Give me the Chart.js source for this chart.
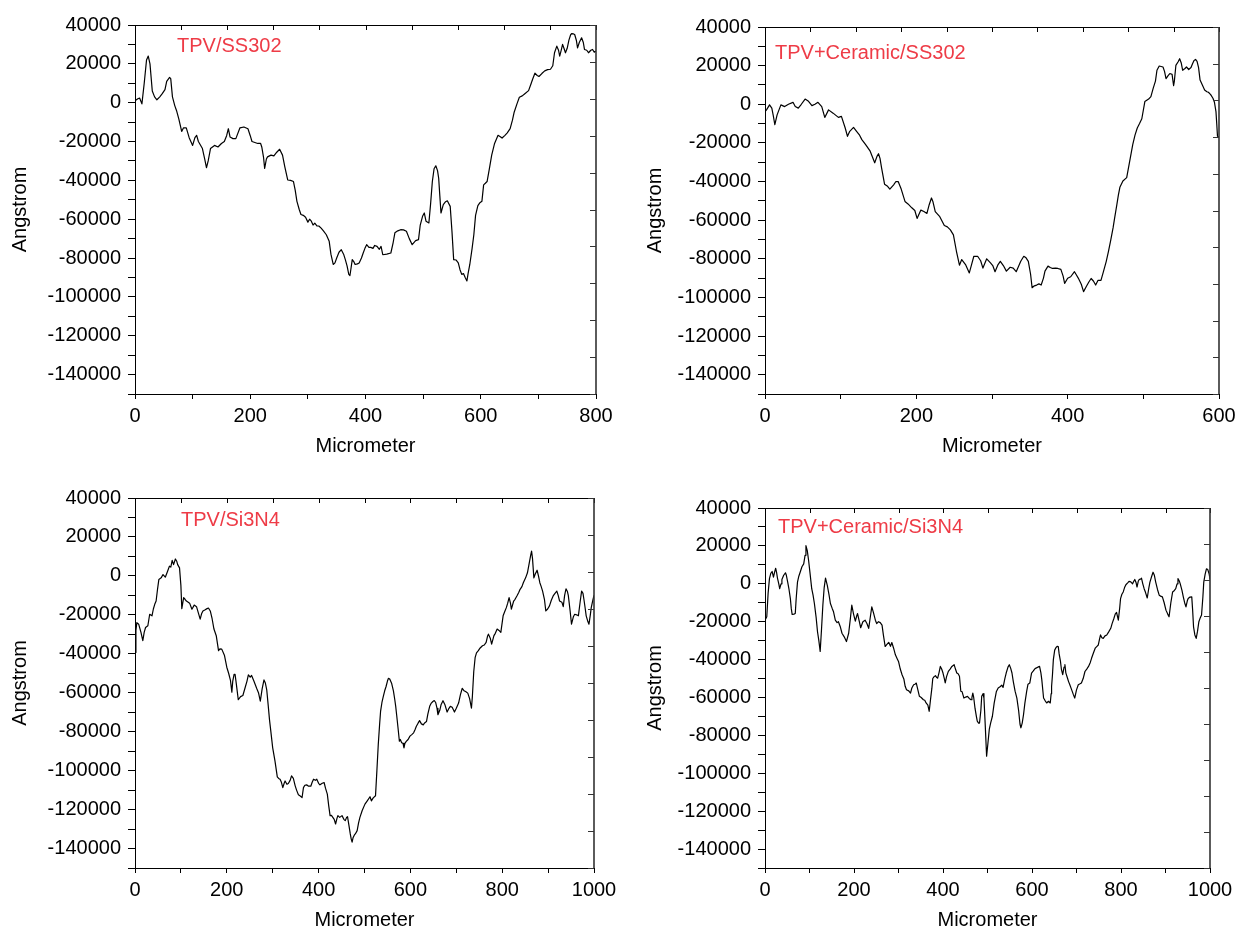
<!DOCTYPE html>
<html>
<head>
<meta charset="utf-8">
<title>Surface profiles</title>
<script src="https://cdn.jsdelivr.net/npm/chart.js@4.4.1/dist/chart.umd.min.js"></script>
<style>
  html, body { margin: 0; padding: 0; background: #fff; overflow: hidden; }
  body { width: 1239px; height: 930px; position: relative; }
  canvas { position: absolute; }
</style>
</head>
<body>
<canvas id="c1"></canvas>
<canvas id="c2"></canvas>
<canvas id="c3"></canvas>
<canvas id="c4"></canvas>
<script>
// --- Data: TPV/SS302 ---
const ss302X = [
  0,5,8,12,16,20,23,26,30,34, 38,43,47,52,55,60,62,65,69,72,
  76,81,84,89,94,100,104,107,110,117, 121,124,127,131,138,144,150,155,159,162,
  165,170,175,182,189,196,200,203,208,213, 218,220,223,225,228,230,236,241,246,251,
  256,260,265,270,275,278,281,285,288,292, 296,300,303,306,309,312,316,319,323,327,
  332,337,340,344,347,350,354,358,362,365, 368,371,373,375,377,380,382,386,389,393,
  396,399,402,406,409,413,416,420,424,427, 430,437,444,448,451,456,461,466,471,476,
  481,487,492,495,499,502,505,510,513,516, 519,522,525,527,529,531,535,539,542,547,
  550,553,557,561,564,567,570,573,576,578, 581,585,588,591,595,598,602,605,608,611,
  615,619,624,630,634,637,642,646,651,655, 658,663,667,672,676,683,687,690,694,698,
  701,706,711,716,721,725,728,732,735,737, 740,742,745,747,750,753,756,758,761,763,
  766,768,771,775,778,780,784,787,791,794, 797,800
];
const ss302Y = [
  1000,2000,2400,-600,10000,22000,24000,20000,6000,3000, 1500,3000,4500,6700,11000,13000,12400,3000,-1500,-4000,
  -8300,-14800,-13000,-13000,-18000,-22000,-18000,-16800,-20000,-23600, -29000,-33500,-30000,-23600,-22000,-22800,-21000,-20000,-17000,-13400,
  -17700,-18500,-18500,-13000,-12500,-13400,-17000,-20000,-20500,-21000, -21000,-22800,-28000,-33800,-29000,-27900,-27000,-27400,-25500,-24000,
  -27000,-33000,-39800,-40000,-40600,-45000,-50800,-55000,-57600,-58000, -59000,-61500,-60000,-61000,-63000,-62000,-63500,-63500,-64600,-66000,
  -68000,-71400,-78000,-83300,-82500,-80000,-77000,-75700,-78000,-80800, -84000,-88400,-89000,-85000,-80800,-82000,-83300,-83000,-82500,-80000,
  -77400,-75000,-73100,-74500,-74500,-75000,-73500,-74000,-75500,-74000, -78300,-78000,-77400,-72000,-67000,-66000,-65400,-65500,-66200,-70000,
  -73100,-71000,-70500,-63000,-58500,-56800,-61000,-61900,-52000,-40600, -34000,-32500,-35000,-38900,-48000,-56800,-52500,-51000,-50500,-53400,
  -66000,-80800,-81000,-82500,-86000,-88400,-88000,-90000,-91800,-88000, -83300,-75000,-68000,-58000,-53000,-51700,-50800,-42300,-41500,-40600,
  -34000,-27000,-21000,-16800,-17500,-18200,-16800,-15500,-13400,-9000, -4900,-500,2800,3500,4500,6200,9500,12100,15200,14000,
  13500,15000,16400,17000,17200,19000,25700,29100,27000,24000, 27500,30000,27500,25700,28000,32200,35000,35600,35400,35100,
  32000,28200,31000,33400,31000,27400,27000,25700,27000,27400, 26000,26600
];

// --- Data: TPV+Ceramic/SS302 ---
const ceramicSsX = [
  0,2,6,9,11,13,16,21,26,31, 37,40,44,48,53,57,62,66,70,75,
  79,84,90,97,101,106,109,112,117,121, 125,128,133,139,145,148,150,152,154,158,
  162,165,170,173,176,180,185,189,194,198, 201,206,210,214,217,220,222,225,231,237,
  241,245,249,253,257,260,265,270,273,276, 281,285,288,293,298,301,304,308,311,315,
  319,324,328,332,335,338,342,345,348,351, 353,356,359,362,365,368,370,374,377,380,
  384,387,391,394,396,400,404,409,411,414, 418,421,425,428,431,434,437,440,444,447,
  451,454,457,460,462,465,467,469,473,478, 482,486,489,492,495,498,502,507,510,513,
  516,518,521,526,528,530,533,535,538,540, 541,543,546,548,550,552,555,557,560,563,
  565,567,569,571,573,575,578,581,584,586, 589,592,594,596,597,598,600
];
const ceramicSsY = [
  -3800,-2900,-300,-2000,-6000,-10600,-5500,-300,-1200,0, 1000,-1200,-2000,0,2700,1700,-700,0,1000,-1200,
  -6800,-2900,-4600,-6800,-6300,-12300,-16600,-14000,-12000,-14000, -16000,-18300,-20900,-24300,-30300,-27000,-25600,-28000,-32800,-41400,
  -42500,-43900,-41700,-40000,-40000,-43900,-50300,-51600,-53600,-55000, -59100,-54800,-55500,-56500,-52000,-48500,-50500,-55600,-58200,-62800,
  -63500,-65000,-67600,-76100,-83300,-80400,-83000,-87300,-83000,-78700, -78700,-81000,-84800,-80000,-82100,-83500,-86700,-83000,-81300,-83500,
  -86400,-84400,-84800,-86700,-84000,-81300,-78700,-79500,-81300,-88000, -95000,-94000,-93600,-93000,-93600,-90000,-86400,-83800,-84500,-85000,
  -84800,-85000,-85500,-89000,-92700,-90100,-89300,-86700,-88000,-90000, -93200,-97000,-94100,-92000,-90200,-91500,-93600,-91200,-91200,-87000,
  -81300,-76000,-70200,-64000,-59100,-52000,-47000,-43000,-39700,-38000, -29400,-20900,-16000,-12300,-10000,-7500,1400,2700,4000,8200,
  12000,17600,19800,19300,17000,13300,15000,15900,15500,9600, 12000,20100,22000,23600,21500,17600,18500,19300,18000,19000,
  21000,22700,23200,22200,19000,12500,10000,7400,6500,6200, 5000,3100,1000,-3800,-10000,-16600,-17000
];

// --- Data: TPV/Si3N4 ---
const si3n4X = [
  0,2,4,8,13,17,20,23,28,32, 37,40,43,46,49,52,57,61,66,71,
  75,78,81,84,88,91,93,97,100,102, 106,109,112,116,119,124,129,134,138,142,
  145,148,152,157,160,164,168,172,177,182, 185,189,195,200,204,208,211,213,216,218,
  221,225,230,235,240,244,247,251,254,259, 265,269,273,277,281,284,287,290,293,296,
  300,305,310,313,316,319,322,325,327,331, 334,338,341,345,349,352,356,360,364,367,
  370,374,378,383,386,389,393,396,400,403, 408,412,415,419,422,425,428,431,434,437,
  440,442,446,451,455,458,461,463,466,469, 471,473,475,478,480,484,487,490,495,501,
  506,512,515,519,524,527,530,533,535,538, 541,544,547,550,552,555,559,563,566,568,
  570,573,576,578,581,584,586,588,591,595, 599,603,607,610,613,617,620,624,628,631,
  635,638,642,645,649,652,655,658,660,664, 667,671,675,680,684,687,691,696,700,705,
  709,713,717,721,725,729,733,735,738,741, 744,748,752,757,761,765,768,770,774,777,
  782,785,789,793,797,802,806,809,812,815, 818,820,825,828,832,836,839,843,846,851,
  855,859,862,864,866,869,872,876,879,882, 885,888,892,895,899,903,907,911,915,919,
  922,925,930,933,936,939,942,944,948,951, 955,958,962,966,970,973,976,978,981,983,
  986,989,992,994,997,1000
];
const si3n4Y = [
  -39300,-28000,-24000,-24800,-29000,-33300,-29000,-26500,-25600,-19700, -20500,-17000,-14600,-12900,-7000,-1800,-1000,700,-650,2400,
  5000,4500,8000,5800,8700,7500,5800,4100,-5000,-16800, -11200,-12000,-12900,-13500,-14000,-17100,-15000,-15800,-19000,-22200,
  -19500,-18000,-17500,-16800,-16500,-18000,-22000,-27300,-30700,-38400, -37500,-37600,-40900,-46900,-50000,-53700,-59700,-54000,-50500,-50500,
  -56000,-63600,-62000,-61400,-57300,-54000,-50800,-52000,-51100,-54000, -57700,-60000,-64300,-58000,-53400,-55000,-58500,-66000,-73800,-80000,
  -88300,-95100,-103200,-104000,-104400,-106000,-108700,-106500,-105300,-107000, -106600,-105000,-102700,-104000,-107800,-110000,-112400,-113000,-113800,-108700,
  -107500,-107300,-108000,-108000,-106000,-104400,-105000,-104400,-106500,-107300, -106500,-106100,-109000,-112100,-118000,-123100,-123000,-124000,-125000,-127400,
  -124500,-123100,-124000,-123100,-125000,-125700,-124000,-123600,-128000,-132500, -135000,-136700,-134500,-133000,-132500,-130800,-127000,-124000,-120500,-117200,
  -115500,-113400,-115500,-114000,-112900,-100000,-86600,-76000,-69600,-65000, -61900,-59000,-56800,-54000,-52600,-53000,-55100,-59000,-63600,-67000,
  -71300,-78000,-84900,-84000,-85700,-86000,-88300,-86000,-85000,-84000, -82300,-81500,-80600,-79000,-77200,-75500,-74300,-76000,-76500,-75500,
  -74800,-71000,-67000,-65500,-64500,-64000,-65000,-68000,-71300,-69000, -66000,-64100,-66000,-69900,-68000,-67000,-67500,-69900,-68000,-65300,
  -61000,-57700,-59000,-59500,-60200,-63000,-67900,-62000,-49200,-42000, -39500,-38400,-37000,-35900,-35500,-34100,-31000,-29900,-32000,-35000,
  -30700,-29500,-27300,-28000,-29000,-20500,-18000,-16300,-14000,-11200, -14000,-17100,-12900,-12000,-10300,-8500,-6900,-5500,-3500,-1000,
  1600,6700,10500,12700,9000,-1000,1000,2900,0,-3500, -5500,-7800,-12000,-18000,-17000,-15400,-12500,-10300,-9000,-7800,
  -10000,-12900,-13500,-15800,-10000,-6600,-8000,-10000,-18000,-24800, -21000,-19700,-20000,-20500,-13000,-7800,-9000,-12000,-17000,-20500,
  -23000,-24800,-20000,-16300,-13000,-10000
];

// --- Data: TPV+Ceramic/Si3N4 ---
const ceramicSiX = [
  0,4,7,10,13,16,19,22,24,26, 28,31,33,36,38,42,46,48,51,54,
  57,59,61,65,68,70,73,76,79,83, 87,90,92,95,98,101,105,108,111,115,
  118,121,124,127,130,133,136,140,144,147, 151,154,158,162,165,169,173,178,183,188,
  192,195,199,203,206,208,212,215,220,225, 229,233,237,240,244,248,251,255,259,263,
  266,270,274,278,282,285,289,293,297,300, 304,308,312,315,318,323,327,330,334,337,
  340,343,347,351,356,359,362,366,369,372, 375,377,380,383,386,388,391,394,397,400,
  403,405,408,412,416,420,425,428,431,434, 437,440,443,447,451,455,459,463,465,467,
  469,472,475,477,480,482,485,487,490,492, 495,498,501,504,507,511,515,520,524,529,
  532,535,539,542,546,549,552,555,558,562, 566,570,573,575,578,581,584,588,591,595,
  599,603,606,609,613,617,620,622,626,629, 633,637,641,643,644,646,648,651,654,657,
  659,661,664,666,669,672,674,676,680,682, 685,690,693,696,700,704,708,711,715,719,
  723,727,731,734,738,742,746,749,752,754, 757,760,764,768,772,777,780,784,787,790,
  794,797,799,802,805,808,811,815,818,822, 826,829,831,834,836,839,841,844,846,849,
  852,855,859,862,865,869,872,875,878,882, 886,889,893,897,901,905,908,912,916,920,
  923,926,928,931,933,937,940,943,946,949, 951,955,959,961,963,966,969,972,975,978,
  981,984,986,989,992,995,998,1000
];
const ceramicSiY = [
  -19200,-17400,-5000,2700,5500,6500,3500,6500,8200,6000, 3000,0,-2600,0,2300,4500,5800,4500,900,-3000,
  -7800,-13000,-16200,-16000,-15700,-8000,900,4000,6100,9000, 10500,15000,20100,17500,12300,6000,-2600,-6000,-10400,-18000,
  -25300,-30000,-35700,-24000,-11300,-2000,3000,-800,-6000,-10400, -13000,-14800,-19200,-20500,-20000,-22500,-26100,-28000,-30500,-26100,
  -18000,-11300,-16000,-19700,-17000,-15700,-20000,-23200,-20000,-19200, -21000,-23500,-17000,-12200,-15500,-19200,-21000,-20000,-20500,-21800,
  -27000,-33100,-32000,-30900,-33000,-31000,-34000,-37500,-39500,-41000, -45000,-48000,-50200,-54100,-55900,-56500,-57700,-55000,-53300,-53000,
  -52400,-55500,-59400,-60000,-61200,-61500,-62900,-64000,-67300,-61000, -55100,-50000,-49000,-48500,-49500,-49800,-47000,-43600,-45000,-47100,
  -50000,-52300,-49000,-46200,-45000,-43600,-42700,-45000,-47100,-47500, -48800,-56700,-57000,-60300,-59800,-59400,-60500,-61200,-60000,-57700,
  -60000,-65800,-70000,-72500,-73500,-73600,-67000,-59400,-58000,-60300, -75000,-91000,-84000,-76900,-73500,-69900,-63000,-56800,-55000,-54200,
  -53500,-54700,-50000,-47100,-44000,-42700,-44500,-47100,-51600,-56700, -60300,-67000,-74000,-76000,-73500,-69000,-63000,-56800,-53000,-52400,
  -47100,-46000,-45000,-44500,-44000,-43600,-47000,-50600,-60300,-61500, -62900,-62000,-62900,-58000,-54200,-48000,-40000,-35000,-33600,-33000,
  -33100,-37000,-41000,-45000,-48000,-44000,-42700,-47000,-50000,-51500, -53300,-56500,-58500,-60300,-56000,-53300,-52800,-52400,-50000,-46300,
  -45000,-43600,-41500,-39200,-36500,-34000,-33000,-32300,-29000,-27000, -28500,-28800,-27500,-27000,-25500,-23500,-21000,-18300,-16000,-15100,
  -19200,-13000,-7800,-5500,-4300,-2000,-500,500,1300,1000, 0,1500,2300,500,-1700,1500,2300,2500,3000,0,
  -2600,-4500,-7500,-3000,900,4000,6100,4500,900,-3000, -6100,-6500,-6900,-10000,-13900,-16000,-17400,-10000,-4300,-3500,
  -2600,0,2700,1500,100,-3500,-6900,-10000,-12200,-9000, -7800,-7000,-6900,-14000,-22700,-27000,-28800,-25000,-20000,-18000,
  -16500,-7000,900,5000,7900,7500,5300,2300
];

// --- Axis ticks ---
const yTicks = [-150000, -140000, -130000, -120000, -110000, -100000, -90000, -80000, -70000, -60000,
  -50000, -40000, -30000, -20000, -10000, 0, 10000, 20000, 30000, 40000];
const xTicks600 = [0, 100, 200, 300, 400, 500, 600];
const xTicks800 = [0, 100, 200, 300, 400, 500, 600, 700, 800];
const xTicks1000 = [0, 100, 200, 300, 400, 500, 600, 700, 800, 900, 1000];
const frameTicks = [0, 1, 2, 3, 4, 5, 6, 7, 8, 9, 10]; // inward ticks on the top and right frame

// --- Panel layout ---
const panels = [
  { id: 'c1', label: 'TPV/SS302', xs: ss302X, ys: ss302Y, xMax: 800, xTicks: xTicks800,
    left: 0, top: 6, axisW: 135, width: 626, height: 452, titlePad: 8, dx: 42, dy: 21 },
  { id: 'c2', label: 'TPV+Ceramic/SS302', xs: ceramicSsX, ys: ceramicSsY, xMax: 600, xTicks: xTicks600,
    left: 640, top: 8, axisW: 125, width: 609, height: 450, titlePad: 3, dx: 10, dy: 26 },
  { id: 'c3', label: 'TPV/Si3N4', xs: si3n4X, ys: si3n4Y, xMax: 1000, xTicks: xTicks1000,
    left: 0, top: 479, axisW: 135, width: 624, height: 453, titlePad: 8, dx: 46, dy: 22 },
  { id: 'c4', label: 'TPV+Ceramic/Si3N4', xs: ceramicSiX, ys: ceramicSiY, xMax: 1000, xTicks: xTicks1000,
    left: 640, top: 489, axisW: 125, width: 600, height: 443, titlePad: 3, dx: 13, dy: 19 }
];

const FONT = { family: '"Liberation Sans", Arial, Helvetica, sans-serif', size: 20 };

// top and right frame lines with inward ticks, plus the red sample name
const boxFrame = {
  id: 'boxFrame',
  afterDraw(chart, args, opts) {
    const { ctx, chartArea: a } = chart;
    const topScale = chart.scales.xTop;
    const rightScale = chart.scales.yRight;
    ctx.save();

    ctx.strokeStyle = '#000';
    ctx.lineWidth = 1;
    ctx.beginPath();
    ctx.moveTo(a.left, a.top + 0.5);
    ctx.lineTo(a.right, a.top + 0.5);
    frameTicks.forEach(v => {
      const x = Math.round(topScale.getPixelForValue(v)) + 0.5;
      ctx.moveTo(x, a.top);
      ctx.lineTo(x, a.top + 5);
    });
    ctx.stroke();

    ctx.strokeStyle = '#333';
    ctx.lineWidth = 1.6;
    ctx.beginPath();
    ctx.moveTo(a.right, a.top);
    ctx.lineTo(a.right, a.bottom);
    ctx.stroke();
    ctx.lineWidth = 1;
    ctx.beginPath();
    frameTicks.forEach(v => {
      const y = Math.round(rightScale.getPixelForValue(v)) + 0.5;
      ctx.moveTo(a.right, y);
      ctx.lineTo(a.right - 6, y);
    });
    ctx.stroke();

    ctx.fillStyle = '#ee3b46';
    ctx.font = `${FONT.size}px ${FONT.family}`;
    ctx.textBaseline = 'middle';
    ctx.textAlign = 'left';
    ctx.fillText(opts.text, a.left + opts.dx, a.top + opts.dy);
    ctx.restore();
  }
};

const makeChart = (p) => {
  const canvas = document.getElementById(p.id);
  canvas.width = p.width;
  canvas.height = p.height;
  canvas.style.left = p.left + 'px';
  canvas.style.top = p.top + 'px';

  const points = p.xs.map((x, i) => ({ x, y: p.ys[i] }));

  return new Chart(canvas, {
    type: 'scatter',
    data: {
      datasets: [{
        data: points,
        showLine: true,
        borderColor: '#000',
        borderWidth: 1.2,
        borderJoinStyle: 'round',
        pointRadius: 0,
        pointHoverRadius: 0,
        tension: 0
      }]
    },
    options: {
      responsive: false,
      animation: false,
      devicePixelRatio: 1,
      layout: { padding: { top: 16, right: 30, bottom: 0, left: 0 } },
      plugins: {
        legend: { display: false },
        tooltip: { enabled: false },
        boxFrame: { text: p.label, dx: p.dx, dy: p.dy }
      },
      scales: {
        x: {
          type: 'linear',
          position: 'bottom',
          min: 0,
          max: p.xMax,
          afterBuildTicks: s => { s.ticks = p.xTicks.map(v => ({ value: v })); },
          afterFit: s => { s.height = 64; },
          ticks: {
            autoSkip: false, maxRotation: 0, padding: 5, color: '#000', font: FONT,
            callback: v => (v % 200 === 0 ? String(v) : '')
          },
          grid: { drawOnChartArea: false, tickLength: 5, color: '#000' },
          border: { color: '#000', width: 1 },
          title: { display: true, text: 'Micrometer', color: '#000', font: FONT, padding: { top: 0, bottom: 0 } }
        },
        y: {
          type: 'linear',
          position: 'left',
          min: -150000,
          max: 40000,
          afterBuildTicks: s => { s.ticks = yTicks.map(v => ({ value: v })); },
          afterFit: s => { s.width = p.axisW; },
          ticks: {
            autoSkip: false, padding: 7, color: '#000', font: FONT,
            callback: v => (v % 20000 === 0 ? String(v) : '')
          },
          grid: { drawOnChartArea: false, tickLength: 7, color: '#000' },
          border: { color: '#000', width: 1 },
          title: { display: true, text: 'Angstrom', color: '#000', font: FONT, padding: { top: p.titlePad, bottom: 0 } }
        },
        xTop: { type: 'linear', position: 'top', min: 0, max: 10, display: false },
        yRight: { type: 'linear', position: 'right', min: 0, max: 10, display: false }
      }
    },
    plugins: [boxFrame]
  });
};

panels.forEach(makeChart);
</script>
</body>
</html>
